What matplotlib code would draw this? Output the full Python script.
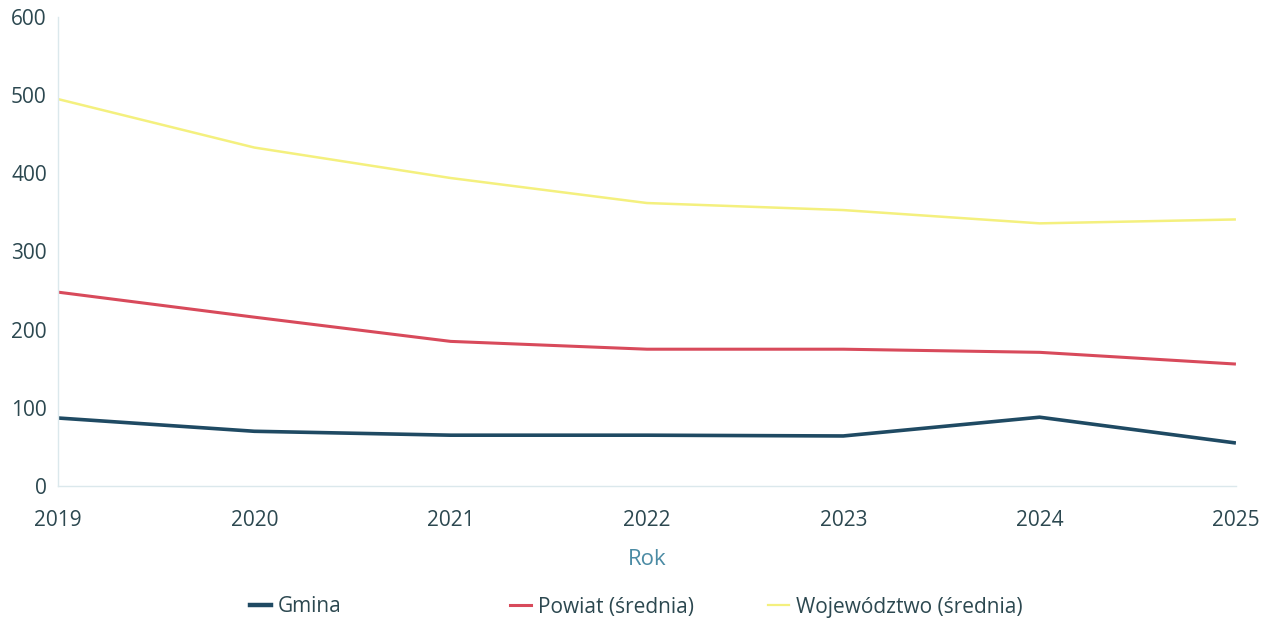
import matplotlib.pyplot as plt
from matplotlib.lines import Line2D

plt.rcParams['font.family'] = ['Open Sans', 'DejaVu Sans']

years = [2019, 2020, 2021, 2022, 2023, 2024, 2025]
gmina = [87, 70, 65, 65, 64, 88, 55]
powiat = [248, 216, 185, 175, 175, 171, 156]
wojewodztwo = [495, 433, 394, 362, 353, 336, 341]

series_labels = ['Gmina', 'Powiat (średnia)', 'Województwo (średnia)']
series_colors = ['#1f4a63', '#d84a5b', '#f4f07e']
series_widths = [2.6, 2.2, 1.8]

tick_color = '#2c4850'
axis_line = '#dbe8ec'

fig = plt.figure(figsize=(12.68, 6.18), dpi=100)
ax = fig.add_axes([0.0457, 0.2136, 0.9290, 0.7589])

for vals, col, lw in zip([gmina, powiat, wojewodztwo], series_colors, series_widths):
    ax.plot(years, vals, color=col, linewidth=lw, solid_capstyle='butt')

ax.set_xlim(2019, 2025)
ax.set_ylim(0, 600)
ax.set_xticks(years)
ax.set_yticks([0, 100, 200, 300, 400, 500, 600])

for s in ['top', 'right']:
    ax.spines[s].set_visible(False)
ax.spines['left'].set_color(axis_line)
ax.spines['bottom'].set_color(axis_line)
ax.spines['left'].set_linewidth(1.0)
ax.spines['bottom'].set_linewidth(1.0)

ax.tick_params(axis='x', length=0, pad=17, labelsize=15, labelcolor=tick_color)
ax.tick_params(axis='y', length=0, pad=8, labelsize=15, labelcolor=tick_color)

ax.set_xlabel('Rok', fontsize=16, color='#4b8ba4', labelpad=13)

# legend: three fixed slots like in the original
starts = [250, 510, 768]
for lab, col, lw, x0 in zip(series_labels, series_colors, [3.2, 2.2, 1.6], starts):
    h = Line2D([], [], color=col, linewidth=lw)
    fig.legend([h], [lab], loc='center left', bbox_to_anchor=(x0 / 1268, 1 - 607 / 618),
               frameon=False, fontsize=15, handlelength=1.0, handletextpad=0.35,
               borderpad=0, borderaxespad=0, labelcolor=tick_color)

fig.savefig('out.png', dpi=100, facecolor='white')
